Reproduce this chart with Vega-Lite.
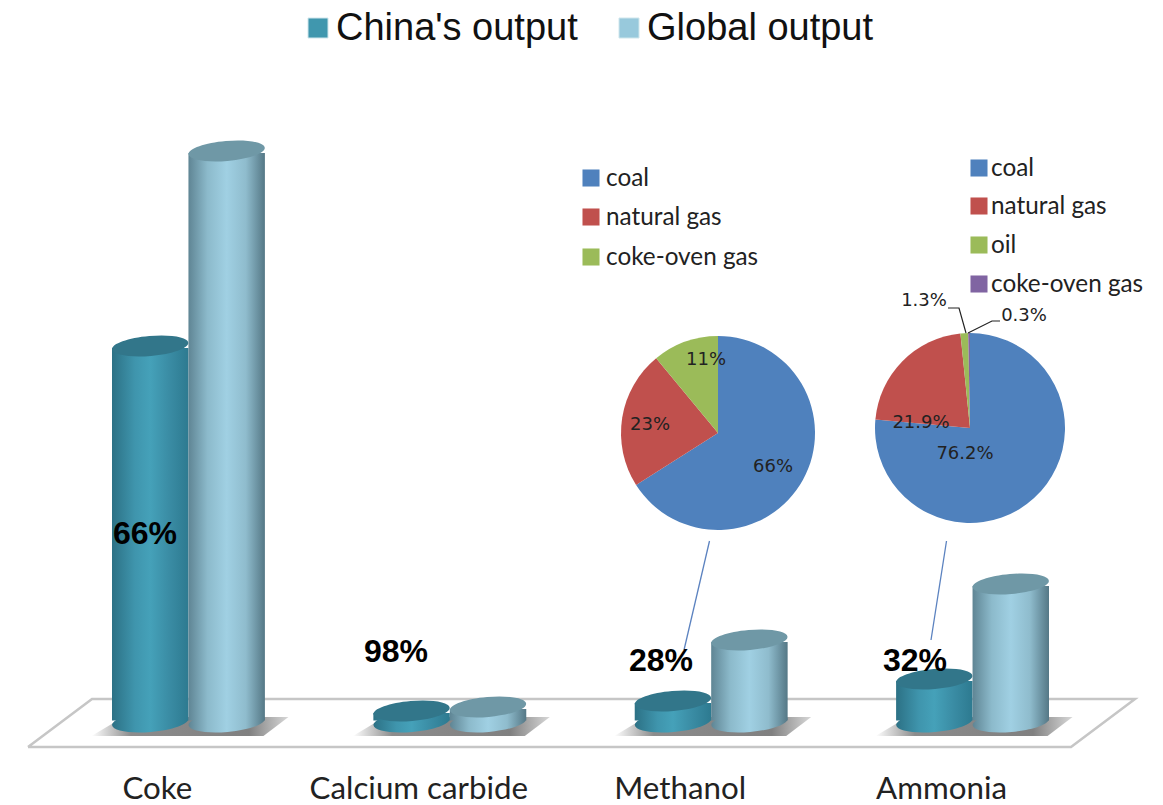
{
"$schema":"https://vega.github.io/schema/vega-lite/v6.json",
"width":1163,"height":805,"padding":0,"autosize":{"type":"none"},"background":"white",
"config":{"view":{"stroke":null}},
"datasets":{
"output":[
{"category":"Coke","series":"China's output","value":376},
{"category":"Coke","series":"Global output","value":571},
{"category":"Calcium carbide","series":"China's output","value":11},
{"category":"Calcium carbide","series":"Global output","value":15},
{"category":"Methanol","series":"China's output","value":21},
{"category":"Methanol","series":"Global output","value":82},
{"category":"Ammonia","series":"China's output","value":43},
{"category":"Ammonia","series":"Global output","value":138}],
"floor":[{"u":28,"v":747,"k":0},{"u":92,"v":699,"k":1},{"u":1135,"v":699,"k":2},{"u":1071,"v":747,"k":3},{"u":28,"v":747,"k":4}],
"shares":[{"text":"66%","u":145,"v":534},{"text":"98%","u":396,"v":652},{"text":"28%","u":661,"v":661},{"text":"32%","u":915,"v":661}],
"legendTop":[{"text":"China's output","series":"China's output","u":318,"v":28,"tu":336},{"text":"Global output","series":"Global output","u":629,"v":28,"tu":647}],
"legendPie":[
{"text":"coal","fuel":"coal","u":591,"v":178,"tu":606},
{"text":"natural gas","fuel":"natural gas","u":591,"v":217,"tu":606},
{"text":"coke-oven gas","fuel":"coke-oven gas m","u":591,"v":257,"tu":606},
{"text":"coal","fuel":"coal","u":979,"v":168,"tu":991},
{"text":"natural gas","fuel":"natural gas","u":979,"v":206,"tu":991},
{"text":"oil","fuel":"oil","u":979,"v":245,"tu":991},
{"text":"coke-oven gas","fuel":"coke-oven gas","u":979,"v":284,"tu":991}],
"pieLabels":[{"text":"66%","u":773,"v":467},{"text":"23%","u":650,"v":425},{"text":"11%","u":706,"v":360},{"text":"76.2%","u":965,"v":454},{"text":"21.9%","u":921,"v":423},{"text":"1.3%","u":924,"v":301},{"text":"0.3%","u":1024,"v":316}],
"leaders":[
{"id":"c","k":0,"u":948,"v":308},{"id":"c","k":1,"u":959,"v":308},{"id":"c","k":2,"u":966,"v":333},
{"id":"d","k":0,"u":1000,"v":321},{"id":"d","k":1,"u":992,"v":321},{"id":"d","k":2,"u":968,"v":333}],
"blue":[
{"id":"a","k":0,"u":709.5,"v":541},{"id":"a","k":1,"u":684,"v":650},
{"id":"b","k":0,"u":946.5,"v":541},{"id":"b","k":1,"u":931,"v":640}],
"methanol":[{"fuel":"coal","share":66,"r":0,"u":718,"v":433},{"fuel":"natural gas","share":23,"r":1,"u":718,"v":433},{"fuel":"coke-oven gas m","share":11,"r":2,"u":718,"v":433}],
"ammonia":[{"fuel":"coal","share":76.2,"r":0,"u":970,"v":428},{"fuel":"natural gas","share":21.9,"r":1,"u":970,"v":428},{"fuel":"oil","share":1.3,"r":2,"u":970,"v":428},{"fuel":"coke-oven gas","share":0.3,"r":3,"u":970,"v":428}]
},
"resolve":{"scale":{"x":"independent","y":"independent"}},
"layer":[
{"layer":[
 {"data":{"name":"floor"},"mark":{"type":"line","color":"#c6c6c6","strokeWidth":2.5,"strokeJoin":"miter"},
  "encoding":{"x":{"field":"u","type":"quantitative","axis":null,"scale":{"domain":[0,1163],"range":[0,1163],"nice":false}},
  "y":{"field":"v","type":"quantitative","axis":null,"scale":{"domain":[0,805],"range":[0,805],"zero":false,"nice":false}},
  "order":{"field":"k"}}}
]},
{"data":{"name":"output"},
 "layer":[
 {"mark":{"type":"point","filled":true,"shape":"M-0.97,0.11 L-0.65,-0.08 L1,-0.08 L0.75,0.11 Z","size":40000,"opacity":1,
   "fill":{"gradient":"linear","x1":0,"x2":1,"y1":0,"y2":0,"stops":[{"offset":0,"color":"#ffffff"},{"offset":0.2,"color":"#8c8c8c"},{"offset":0.8,"color":"#808080"},{"offset":1,"color":"#d8d8d8"}]}},
  "transform":[{"filter":"datum.series==='China\\'s output'"}],
  "encoding":{"x":{"field":"category","type":"nominal","sort":null,"axis":{"title":null,"domain":false,"ticks":false,"labelAngle":0,"labelFont":"Lato","labelFontSize":31.3,"labelColor":"#222222","labelPadding":8,"offset":-40,"labelOffset":-31,"labelOverlap":false,"labelLimit":0,"grid":false},
   "scale":{"type":"band","domain":["Coke","Calcium carbide","Methanol","Ammonia"],"range":[112,1049],"paddingInner":0.415,"paddingOuter":0}},
   "y":{"datum":-3,"type":"quantitative","axis":null,"scale":{"domain":[-83,722],"range":[805,0],"zero":false,"nice":false}}}},
 {"transform":[{"filter":"datum.series==='China\\'s output'"}],
  "layer":[
  {"mark":{"type":"point","filled":true,"opacity":1,"size":5852,"shape":"M-0.996,0.087 C-1.009,-0.056,-0.573,-0.211,-0.0227,-0.259 C0.527,-0.307,0.984,-0.23,0.996,-0.087 C1.009,0.056,0.573,0.211,0.0227,0.259 C-0.527,0.307,-0.984,0.23,-0.996,0.087 Z",
    "fill":{"gradient":"linear","x1":0,"x2":1,"y1":0,"y2":0,"stops":[{"offset":0,"color":"#2c7185"},{"offset":0.3,"color":"#3f95ad"},{"offset":0.5,"color":"#45a1b9"},{"offset":0.75,"color":"#3a8ca4"},{"offset":1,"color":"#2d7a90"}]}},
   "encoding":{"x":{"field":"category","type":"nominal"},"xOffset":{"field":"series","type":"nominal","scale":{"domain":["China's output","Global output"],"paddingInner":0,"paddingOuter":0}},"y":{"datum":0,"type":"quantitative"}}},
  {"mark":{"type":"bar","yOffset":2,"y2Offset":-1.5,"fill":{"gradient":"linear","x1":0,"x2":1,"y1":0,"y2":0,"stops":[{"offset":0,"color":"#2c7185"},{"offset":0.3,"color":"#3f95ad"},{"offset":0.5,"color":"#45a1b9"},{"offset":0.75,"color":"#3a8ca4"},{"offset":1,"color":"#2d7a90"}]}},
   "encoding":{"x":{"field":"category","type":"nominal"},"xOffset":{"field":"series","type":"nominal"},"y":{"field":"value","type":"quantitative"},"y2":{"datum":0}}},
  {"mark":{"type":"point","filled":true,"opacity":1,"size":5852,"color":"#32768a","shape":"M-0.996,0.087 C-1.009,-0.056,-0.573,-0.211,-0.0227,-0.259 C0.527,-0.307,0.984,-0.23,0.996,-0.087 C1.009,0.056,0.573,0.211,0.0227,0.259 C-0.527,0.307,-0.984,0.23,-0.996,0.087 Z"},
   "encoding":{"x":{"field":"category","type":"nominal"},"xOffset":{"field":"series","type":"nominal"},"y":{"field":"value","type":"quantitative"}}}
  ]},
 {"transform":[{"filter":"datum.series==='Global output'"}],
  "layer":[
  {"mark":{"type":"point","filled":true,"opacity":1,"size":5852,"shape":"M-0.996,0.087 C-1.009,-0.056,-0.573,-0.211,-0.0227,-0.259 C0.527,-0.307,0.984,-0.23,0.996,-0.087 C1.009,0.056,0.573,0.211,0.0227,0.259 C-0.527,0.307,-0.984,0.23,-0.996,0.087 Z",
    "fill":{"gradient":"linear","x1":0,"x2":1,"y1":0,"y2":0,"stops":[{"offset":0,"color":"#5f8594"},{"offset":0.25,"color":"#8cbacb"},{"offset":0.5,"color":"#a0d0e3"},{"offset":0.75,"color":"#8fbccd"},{"offset":1,"color":"#557886"}]}},
   "encoding":{"x":{"field":"category","type":"nominal"},"xOffset":{"field":"series","type":"nominal"},"y":{"datum":0,"type":"quantitative"}}},
  {"mark":{"type":"bar","yOffset":2,"y2Offset":-1.5,"fill":{"gradient":"linear","x1":0,"x2":1,"y1":0,"y2":0,"stops":[{"offset":0,"color":"#5f8594"},{"offset":0.25,"color":"#8cbacb"},{"offset":0.5,"color":"#a0d0e3"},{"offset":0.75,"color":"#8fbccd"},{"offset":1,"color":"#557886"}]}},
   "encoding":{"x":{"field":"category","type":"nominal"},"xOffset":{"field":"series","type":"nominal"},"y":{"field":"value","type":"quantitative"},"y2":{"datum":0}}},
  {"mark":{"type":"point","filled":true,"opacity":1,"size":5852,"color":"#6f98a6","shape":"M-0.996,0.087 C-1.009,-0.056,-0.573,-0.211,-0.0227,-0.259 C0.527,-0.307,0.984,-0.23,0.996,-0.087 C1.009,0.056,0.573,0.211,0.0227,0.259 C-0.527,0.307,-0.984,0.23,-0.996,0.087 Z"},
   "encoding":{"x":{"field":"category","type":"nominal"},"xOffset":{"field":"series","type":"nominal"},"y":{"field":"value","type":"quantitative"}}}
  ]}
 ]},
{"encoding":{"x":{"field":"u","type":"quantitative","axis":null,"stack":null,"scale":{"domain":[0,1163],"range":[0,1163],"nice":false}},
  "y":{"field":"v","type":"quantitative","axis":null,"stack":null,"scale":{"domain":[0,805],"range":[0,805],"zero":false,"nice":false}}},
 "layer":[
 {"data":{"name":"methanol"},"transform":[{"stack":"share","offset":"normalize","sort":[{"field":"r","order":"ascending"}],"as":["s0","s1"]}],
  "mark":{"type":"arc","outerRadius":97,"innerRadius":0},
  "encoding":{
   "theta":{"field":"s0","type":"quantitative","stack":null,"scale":{"domain":[0,1],"range":[0,6.28319]}},
   "theta2":{"field":"s1"},
   "color":{"field":"fuel","type":"nominal","legend":null,"scale":{"domain":["coal","natural gas","oil","coke-oven gas","coke-oven gas m"],"range":["#4f81bd","#c0504d","#9bbb59","#8064a2","#9bbb59"]}}}},
 {"data":{"name":"ammonia"},"transform":[{"stack":"share","offset":"normalize","sort":[{"field":"r","order":"ascending"}],"as":["s0","s1"]}],
  "mark":{"type":"arc","outerRadius":95,"innerRadius":0},
  "encoding":{
   "theta":{"field":"s0","type":"quantitative","stack":null},
   "theta2":{"field":"s1"},
   "color":{"field":"fuel","type":"nominal","legend":null}}},
 {"data":{"name":"blue"},"mark":{"type":"line","color":"#5b82c0","strokeWidth":1.3},"encoding":{"detail":{"field":"id"},"order":{"field":"k"}}},
 {"data":{"name":"leaders"},"mark":{"type":"line","color":"#222222","strokeWidth":1.2},"encoding":{"detail":{"field":"id"},"order":{"field":"k"}}},
 {"data":{"name":"legendTop"},"transform":[{"filter":"datum.series==='China\\'s output'"}],"mark":{"type":"point","shape":"square","filled":true,"opacity":1,"size":400,"fill":"#4097ae","stroke":"#cfe6ec","strokeWidth":1}},
 {"data":{"name":"legendTop"},"transform":[{"filter":"datum.series==='Global output'"}],"mark":{"type":"point","shape":"square","filled":true,"opacity":1,"size":400,"fill":"#98c9dc","stroke":"#cfe6ec","strokeWidth":1}},
 {"data":{"name":"legendTop"},"mark":{"type":"text","font":"Liberation Sans","fontSize":38,"align":"left","baseline":"middle","dy":1,"color":"#111111"},
  "encoding":{"x":{"field":"tu","type":"quantitative"},"text":{"field":"text"}}},
 {"data":{"name":"legendPie"},"mark":{"type":"point","shape":"square","filled":true,"opacity":1,"size":290},
  "encoding":{"color":{"field":"fuel","type":"nominal","legend":null}}},
 {"data":{"name":"legendPie"},"mark":{"type":"text","font":"Lato","fontSize":24.3,"align":"left","baseline":"middle","dy":1,"color":"#222222"},
  "encoding":{"x":{"field":"tu","type":"quantitative"},"text":{"field":"text"}}},
 {"data":{"name":"pieLabels"},"mark":{"type":"text","font":"DejaVu Sans","fontSize":18,"align":"center","baseline":"middle","color":"#222222"},
  "encoding":{"text":{"field":"text"}}},
 {"data":{"name":"shares"},"mark":{"type":"text","font":"Liberation Sans","fontWeight":"bold","fontSize":32,"align":"center","baseline":"middle","color":"#000000"},
  "encoding":{"text":{"field":"text"}}}
 ]}
]}
